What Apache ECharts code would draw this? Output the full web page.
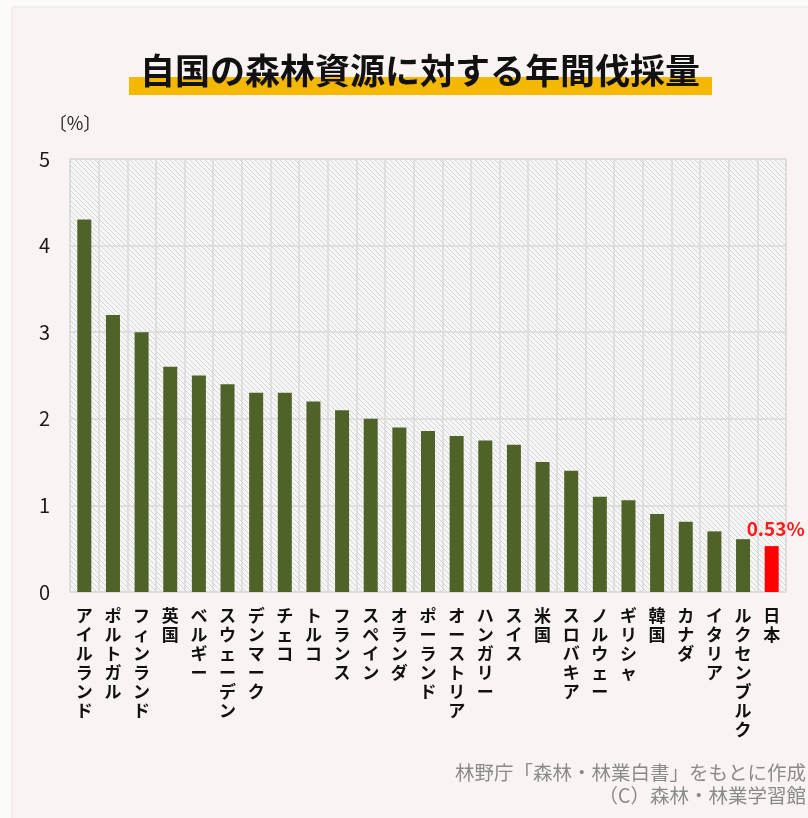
<!DOCTYPE html>
<html><head><meta charset="utf-8">
<script src="https://cdn.jsdelivr.net/npm/echarts@6/dist/echarts.min.js"></script>
<style>html,body{margin:0;padding:0;background:#fdfafa}#c{width:808px;height:818px}</style>
</head><body><div id="c"></div>
<script>
const titleText = '自国の森林資源に対する年間伐採量';
const unitLabel = '〔%〕';
const categories = ['アイルランド','ポルトガル','フィンランド','英国','ベルギー','スウェーデン','デンマーク','チェコ','トルコ','フランス','スペイン','オランダ','ポーランド','オーストリア','ハンガリー','スイス','米国','スロバキア','ノルウェー','ギリシャ','韓国','カナダ','イタリア','ルクセンブルク','日本'];
const values = [4.3,3.2,3.0,2.6,2.5,2.4,2.3,2.3,2.2,2.1,2.0,1.9,1.86,1.8,1.75,1.7,1.5,1.4,1.1,1.06,0.9,0.81,0.7,0.61,0.53];
const highlightCategory = '日本';
const highlightLabel = '0.53%';
const yTicks = [0,1,2,3,4,5];
const sourceLines = ['林野庁「森林・林業白書」をもとに作成','（C）森林・林業学習館'];

// hatch pattern
const pc = document.createElement('canvas');
pc.width = 5; pc.height = 5;
const px = pc.getContext('2d');
px.fillStyle = '#f7f6f6';
px.fillRect(0,0,5,5);
px.strokeStyle = '#d6d4d4';
px.lineWidth = 1;
px.beginPath();
px.moveTo(-1,-1); px.lineTo(6,6);
px.moveTo(-1,4); px.lineTo(1,6);
px.moveTo(4,-1); px.lineTo(6,1);
px.stroke();

const chart = echarts.init(document.getElementById('c'), null, {renderer:'canvas'});
const FONT = '"Noto Sans CJK JP", "Noto Sans", sans-serif';

const data = values.map((v,i) => {
  if (categories[i] === highlightCategory) {
    return {value: v, itemStyle:{color:'#ff0000'},
      label:{show:true, position:'top', distance:8, offset:[4,0], formatter: highlightLabel,
        color:'#ff1a1a', fontSize:19, fontWeight:'bold', fontFamily:FONT}};
  }
  return v;
});

chart.setOption({
  backgroundColor: 'transparent',
  animation: false,
  graphic: [
    {type:'rect', z:-10, shape:{x:12,y:7,width:810,height:820}, style:{fill:'#f9f4f3', stroke:'#ebe4e4', lineWidth:1}},
    {type:'rect', z:0, shape:{x:129,y:77,width:583,height:18}, style:{fill:'#f5b800'}},
    {type:'text', z:1, x:420, y:71, style:{text:titleText, align:'center', verticalAlign:'middle', font:'bold 35px "Noto Sans CJK JP", sans-serif', fill:'#111'}},
    {type:'text', z:1, x:75, y:123, style:{text:unitLabel, align:'center', verticalAlign:'middle', font:'18px "Noto Sans CJK JP", sans-serif', fill:'#222'}},
    {type:'text', z:1, x:806, y:773, style:{text:sourceLines[0], align:'right', verticalAlign:'middle', font:'19.5px "Noto Sans CJK JP", sans-serif', fill:'#8a8a8a'}},
    {type:'text', z:1, x:806, y:796, style:{text:sourceLines[1], align:'right', verticalAlign:'middle', font:'19.5px "Noto Sans CJK JP", sans-serif', fill:'#8a8a8a'}}
  ],
  grid: {left:70, right:22, top:159, bottom:226, show:true, backgroundColor:{image:pc, repeat:'repeat'}, borderColor:'#dad8d8', borderWidth:1},
  xAxis: {
    type:'category', data:categories,
    axisLine:{show:false}, axisTick:{show:false},
    splitLine:{show:true, interval:0, lineStyle:{color:'#dad8d8', width:1.5}},
    axisLabel:{interval:0, margin:14, color:'#111', fontSize:17, fontWeight:'bold', fontFamily:FONT, lineHeight:19,
      formatter: v => v.split('').join('\n')}
  },
  yAxis: {
    type:'value', min:yTicks[0], max:yTicks[yTicks.length-1], interval:1,
    axisLine:{show:false}, axisTick:{show:false},
    splitLine:{show:true, lineStyle:{color:'#dad8d8', width:1.5}},
    axisLabel:{margin:20, color:'#1a1a1a', fontSize:20, fontFamily:FONT}
  },
  series: [{type:'bar', data:data, barWidth:14, itemStyle:{color:'#4f6228'}}]
});
</script></body></html>
